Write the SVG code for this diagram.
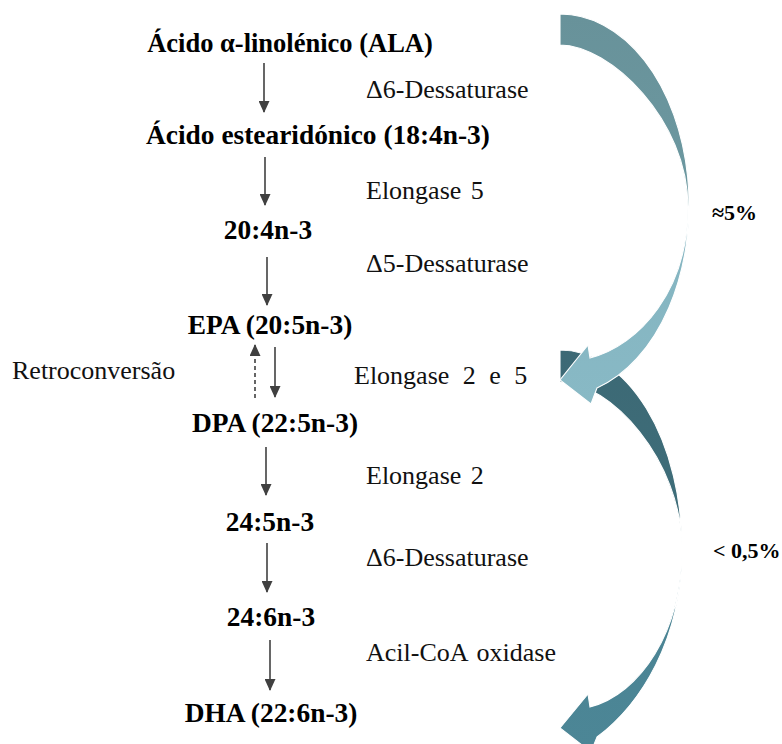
<svg xmlns="http://www.w3.org/2000/svg" width="782" height="744" viewBox="0 0 782 744">
<style>
.node{font-family:"Liberation Serif","Times New Roman",serif;font-weight:bold;font-size:27.4px;fill:#000;text-anchor:middle}
.enz{font-family:"Liberation Serif","Times New Roman",serif;font-size:26px;fill:#111}
.pct{font-family:"Liberation Serif","Times New Roman",serif;font-weight:bold;font-size:22px;fill:#000}
.conn{stroke:#404040;stroke-width:1.6;fill:none}
.curve{stroke:#fff;stroke-width:1.1;stroke-linejoin:miter}
</style>
<defs>
<marker id="ah" viewBox="0 0 12 11" refX="11" refY="5.5" markerWidth="12" markerHeight="11" markerUnits="userSpaceOnUse" orient="auto">
<path d="M0,0 L12,5.5 L0,11 Z" fill="#404040"/>
</marker>
<linearGradient id="gA" gradientUnits="userSpaceOnUse" x1="0" y1="14" x2="0" y2="404">
<stop offset="0" stop-color="#68929a"/>
<stop offset="0.47" stop-color="#6c98a0"/>
<stop offset="0.53" stop-color="#84b4c0"/>
<stop offset="1" stop-color="#88b9c5"/>
</linearGradient>
<linearGradient id="gB" gradientUnits="userSpaceOnUse" x1="0" y1="350" x2="0" y2="752">
<stop offset="0" stop-color="#3c6975"/>
<stop offset="0.47" stop-color="#3f6e7a"/>
<stop offset="0.53" stop-color="#4a8393"/>
<stop offset="1" stop-color="#4c8696"/>
</linearGradient>
</defs>

<g id="curved-arrows">
<path id="arrow-lt05" class="curve" fill="url(#gB)" d="M560,350 A122,199 0 0 1 682,549 C682,640 640,705 597,737 L591,752 L560,728 L588,694 L590,707 C640,694 682,632 682,549 C682,460 610,382 560,382 Z"/>
<path id="arrow-5" class="curve" fill="url(#gA)" d="M560,14 A129,191 0 0 1 597,388 L591,404 L560,380 L588,345 L590,358 C640,345 688,290 688,207 C688,120 610,45 560,45 Z"/>
</g>

<g id="connectors">
<line class="conn" x1="264" y1="63" x2="264" y2="112" marker-end="url(#ah)"/>
<line class="conn" x1="265" y1="157" x2="265" y2="205" marker-end="url(#ah)"/>
<line class="conn" x1="267" y1="257" x2="267" y2="305" marker-end="url(#ah)"/>
<line class="conn" x1="275" y1="347" x2="275" y2="397" marker-end="url(#ah)"/>
<line class="conn" x1="255" y1="398" x2="255" y2="345" stroke-dasharray="4,3" marker-end="url(#ah)"/>
<line class="conn" x1="266" y1="447" x2="266" y2="495" marker-end="url(#ah)"/>
<line class="conn" x1="267" y1="543" x2="267" y2="592" marker-end="url(#ah)"/>
<line class="conn" x1="270" y1="640" x2="270" y2="690" marker-end="url(#ah)"/>
</g>

<g id="n-ala"><text class="node" x="290" y="52" style="font-size:26.5px">Ácido α-linolénico (ALA)</text></g>
<g id="n-sda"><text class="node" x="318" y="144">Ácido estearidónico (18:4n-3)</text></g>
<g id="n-204"><text class="node" x="268" y="239">20:4n-3</text></g>
<g id="n-epa"><text class="node" x="270" y="334">EPA (20:5n-3)</text></g>
<g id="n-dpa"><text class="node" x="275" y="432">DPA (22:5n-3)</text></g>
<g id="n-245"><text class="node" x="270" y="531">24:5n-3</text></g>
<g id="n-246"><text class="node" x="271" y="626">24:6n-3</text></g>
<g id="n-dha"><text class="node" x="271" y="722">DHA (22:6n-3)</text></g>

<g id="labels">
<text class="enz" x="366" y="98">Δ6-Dessaturase</text>
<text class="enz" x="366" y="199" word-spacing="3">Elongase 5</text>
<text class="enz" x="366" y="272">Δ5-Dessaturase</text>
<text class="enz" x="12" y="379">Retroconversão</text>
<text class="enz" x="354" y="384" word-spacing="7">Elongase 2 e 5</text>
<text class="enz" x="366" y="484" word-spacing="3">Elongase 2</text>
<text class="enz" x="366" y="566">Δ6-Dessaturase</text>
<text class="enz" x="366" y="661" word-spacing="3">Acil-CoA oxidase</text>
<text class="pct" x="712" y="220">≈5%</text>
<text class="pct" x="713" y="558">&lt; 0,5%</text>
</g>
</svg>
